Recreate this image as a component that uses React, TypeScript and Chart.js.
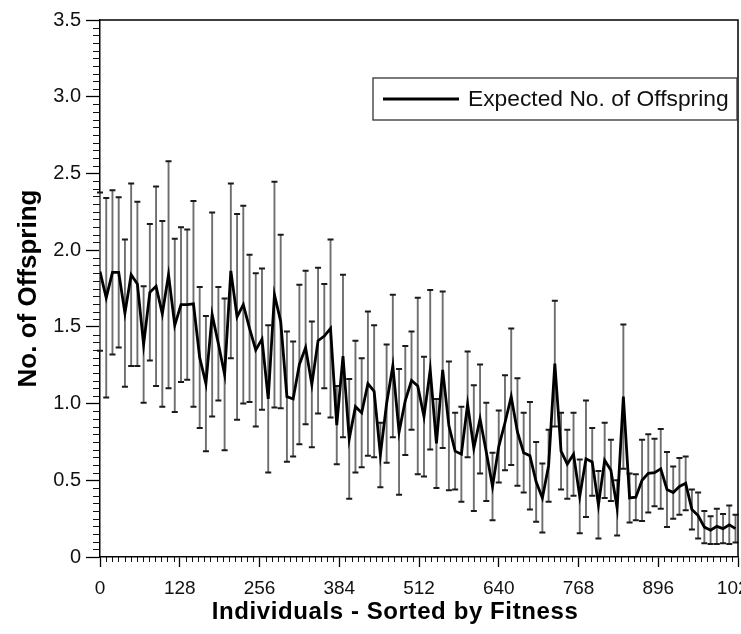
import React, { useEffect, useRef } from "react";
import { Chart, registerables } from "chart.js";

Chart.register(...registerables);

// ---- data ----
const individuals = [
  0, 10, 20, 30, 40, 50, 60, 70, 80, 90,
  100, 110, 120, 130, 140, 150, 160, 170, 180, 190,
  200, 210, 220, 230, 240, 250, 260, 270, 280, 290,
  300, 310, 320, 330, 340, 350, 360, 370, 380, 390,
  400, 410, 420, 430, 440, 450, 460, 470, 480, 490,
  500, 510, 520, 530, 540, 550, 560, 570, 580, 590,
  600, 610, 620, 630, 640, 650, 660, 670, 680, 690,
  700, 710, 720, 730, 740, 750, 760, 770, 780, 790,
  800, 810, 820, 830, 840, 850, 860, 870, 880, 890,
  900, 910, 920, 930, 940, 950, 960, 970, 980, 990,
  1000, 1010, 1020,
];

const expectedOffspring = [
  1.86, 1.69, 1.855, 1.855, 1.59, 1.84, 1.78, 1.385, 1.725, 1.765,
  1.585, 1.84, 1.51, 1.645, 1.645, 1.65, 1.3, 1.13, 1.58, 1.39,
  1.19, 1.865, 1.565, 1.645, 1.49, 1.35, 1.42, 1.03, 1.71, 1.535,
  1.045, 1.03, 1.255, 1.365, 1.125, 1.41, 1.44, 1.49, 0.86, 1.31,
  0.77, 0.98, 0.94, 1.13, 1.08, 0.665, 1.0, 1.245, 0.815, 1.02,
  1.15, 1.115, 0.915, 1.22, 0.74, 1.22, 0.855, 0.69, 0.67, 0.995,
  0.71, 0.9, 0.685, 0.46, 0.72, 0.875, 1.045, 0.815, 0.68, 0.66,
  0.49, 0.385, 0.595, 1.26, 0.69, 0.605, 0.67, 0.395, 0.64, 0.62,
  0.34, 0.63, 0.565, 0.32, 1.045, 0.385, 0.39, 0.5, 0.545, 0.55,
  0.575, 0.44, 0.42, 0.46, 0.48, 0.31, 0.27, 0.195, 0.175, 0.2,
  0.185, 0.21, 0.185,
];

const offspringError = [
  0.515, 0.65, 0.535, 0.49, 0.48, 0.595, 0.535, 0.38, 0.445, 0.65,
  0.605, 0.74, 0.565, 0.505, 0.49, 0.67, 0.46, 0.44, 0.665, 0.37,
  0.495, 0.57, 0.67, 0.645, 0.48, 0.5, 0.46, 0.48, 0.735, 0.565,
  0.425, 0.375, 0.52, 0.5, 0.41, 0.475, 0.34, 0.58, 0.255, 0.53,
  0.39, 0.43, 0.355, 0.47, 0.43, 0.21, 0.385, 0.465, 0.41, 0.355,
  0.32, 0.575, 0.39, 0.52, 0.29, 0.51, 0.42, 0.25, 0.31, 0.345,
  0.41, 0.355, 0.32, 0.22, 0.235, 0.31, 0.445, 0.35, 0.26, 0.35,
  0.26, 0.225, 0.235, 0.41, 0.25, 0.225, 0.27, 0.24, 0.38, 0.22,
  0.22, 0.245, 0.2, 0.18, 0.47, 0.16, 0.15, 0.265, 0.255, 0.22,
  0.26, 0.245, 0.17, 0.185, 0.175, 0.13, 0.15, 0.105, 0.09, 0.115,
  0.095, 0.125, 0.09,
];

const xTickValues = [0, 128, 256, 384, 512, 640, 768, 896, 1024];
const yTickValues = [0, 0.5, 1.0, 1.5, 2.0, 2.5, 3.0, 3.5];
const seriesLabel = "Expected No. of Offspring";
const xTitle = "Individuals - Sorted by Fitness";
const yTitle = "No. of Offspring";

const FONT = "'Liberation Sans', Arial, Helvetica, sans-serif";

export default function App() {
  const canvasRef = useRef<HTMLCanvasElement | null>(null);

  useEffect(() => {
    const canvas = canvasRef.current;
    if (!canvas) return;

    const errorBars = {
      id: "errorBars",
      beforeDatasetsDraw(chart: any) {
        const { ctx } = chart;
        const xs = chart.scales.x;
        const ys = chart.scales.y;
        ctx.save();
        individuals.forEach((xv, i) => {
          const px = xs.getPixelForValue(xv);
          const top = ys.getPixelForValue(expectedOffspring[i] + offspringError[i]);
          const bot = ys.getPixelForValue(expectedOffspring[i] - offspringError[i]);
          ctx.strokeStyle = "#6e6e6e";
          ctx.lineWidth = 1.9;
          ctx.beginPath();
          ctx.moveTo(px, top);
          ctx.lineTo(px, bot);
          ctx.stroke();
          ctx.strokeStyle = "#1a1a1a";
          ctx.lineWidth = 2;
          ctx.beginPath();
          ctx.moveTo(px - 3, top);
          ctx.lineTo(px + 3, top);
          ctx.moveTo(px - 3, bot);
          ctx.lineTo(px + 3, bot);
          ctx.stroke();
        });
        ctx.restore();
      },
    };

    const decorations = {
      id: "decorations",
      afterDraw(chart: any) {
        const { ctx, chartArea } = chart;
        const xs = chart.scales.x;
        const ys = chart.scales.y;
        const { left, right, top, bottom } = chartArea;
        ctx.save();
        // frame top & right
        ctx.strokeStyle = "#000";
        ctx.lineWidth = 1.5;
        ctx.beginPath();
        ctx.moveTo(left, top);
        ctx.lineTo(right, top);
        ctx.lineTo(right, bottom);
        ctx.stroke();

        // minor ticks
        ctx.lineWidth = 1;
        ctx.strokeStyle = "#111";
        ctx.beginPath();
        for (let j = 0; j < yTickValues.length - 1; j++) {
          const a = yTickValues[j];
          const b = yTickValues[j + 1];
          for (let k = 1; k < 10; k++) {
            const py = Math.round(ys.getPixelForValue(a + ((b - a) * k) / 10)) + 0.5;
            ctx.moveTo(left - 7, py);
            ctx.lineTo(left, py);
          }
        }
        for (let j = 0; j < xTickValues.length - 1; j++) {
          const a = xTickValues[j];
          const b = xTickValues[j + 1];
          for (let k = 1; k < 13; k++) {
            const px = Math.round(xs.getPixelForValue(a + ((b - a) * k) / 13)) + 0.5;
            ctx.moveTo(px, bottom);
            ctx.lineTo(px, bottom + 5);
          }
        }
        ctx.stroke();

        // x title (offset as in the reference)
        ctx.fillStyle = "#000";
        ctx.font = `bold 24px ${FONT}`;
        try {
          (ctx as any).letterSpacing = "0.6px";
        } catch (e) {}
        ctx.textAlign = "center";
        ctx.textBaseline = "middle";
        ctx.fillText(xTitle, 395, 612);
        try {
          (ctx as any).letterSpacing = "0px";
        } catch (e) {}

        // legend
        const lx = 373;
        const ly = 78;
        const lw = 364;
        const lh = 42;
        ctx.fillStyle = "#fff";
        ctx.fillRect(lx, ly, lw, lh);
        ctx.strokeStyle = "#333";
        ctx.lineWidth = 1.3;
        ctx.strokeRect(lx, ly, lw, lh);
        ctx.strokeStyle = "#000";
        ctx.lineWidth = 2.8;
        ctx.beginPath();
        ctx.moveTo(lx + 10, ly + 21);
        ctx.lineTo(lx + 86, ly + 21);
        ctx.stroke();
        ctx.fillStyle = "#111";
        ctx.font = `22.8px ${FONT}`;
        ctx.textAlign = "left";
        ctx.textBaseline = "middle";
        ctx.fillText(seriesLabel, lx + 95, ly + 22);
        ctx.restore();
      },
    };

    const chart = new Chart(canvas, {
      type: "line",
      data: {
        datasets: [
          {
            label: seriesLabel,
            data: individuals.map((x, i) => ({ x, y: expectedOffspring[i] })),
            borderColor: "#000",
            borderWidth: 2.8,
            pointRadius: 0,
            tension: 0,
            fill: false,
          },
        ],
      },
      options: {
        animation: false,
        responsive: true,
        maintainAspectRatio: false,
        layout: { padding: { top: 20, right: 3, left: 0, bottom: 0 } },
        plugins: {
          legend: { display: false },
          tooltip: { enabled: false },
        },
        scales: {
          x: {
            type: "linear",
            min: 0,
            max: 1024,
            afterBuildTicks: (scale: any) => {
              scale.ticks = xTickValues.map((v) => ({ value: v }));
            },
            afterFit: (scale: any) => {
              scale.height = 77;
              scale.paddingLeft = 0;
              scale.paddingRight = 0;
            },
            grid: {
              display: true,
              drawOnChartArea: false,
              drawTicks: true,
              tickLength: 10,
              tickColor: "#000",
              tickWidth: 1.3,
            },
            border: { display: true, color: "#000", width: 1.5 },
            ticks: {
              autoSkip: false,
              maxRotation: 0,
              minRotation: 0,
              padding: 10,
              color: "#111",
              font: { family: FONT, size: 19 },
              callback: (v: any) => String(v),
            },
            title: { display: false },
          },
          y: {
            type: "linear",
            min: 0,
            max: 3.5,
            afterBuildTicks: (scale: any) => {
              scale.ticks = yTickValues.map((v) => ({ value: v }));
            },
            afterFit: (scale: any) => {
              scale.width = 100;
            },
            grid: {
              display: true,
              drawOnChartArea: false,
              drawTicks: true,
              tickLength: 14,
              tickColor: "#000",
              tickWidth: 1.3,
            },
            border: { display: true, color: "#000", width: 1.5 },
            ticks: {
              padding: 5,
              color: "#111",
              font: { family: FONT, size: 20 },
              callback: (v: any) => (v === 0 ? "0" : Number(v).toFixed(1)),
            },
            title: {
              display: true,
              text: yTitle,
              color: "#000",
              font: { family: FONT, size: 26, weight: "bold" },
              padding: { top: 13, bottom: 0 },
            },
          },
        },
      },
      plugins: [errorBars, decorations],
    });

    return () => {
      chart.destroy();
    };
  }, []);

  return (
    <div
      style={{
        position: "absolute",
        left: 0,
        top: 0,
        width: 741,
        height: 634,
        background: "#fff",
        overflow: "hidden",
      }}
    >
      <canvas ref={canvasRef} style={{ display: "block" }} />
    </div>
  );
}
